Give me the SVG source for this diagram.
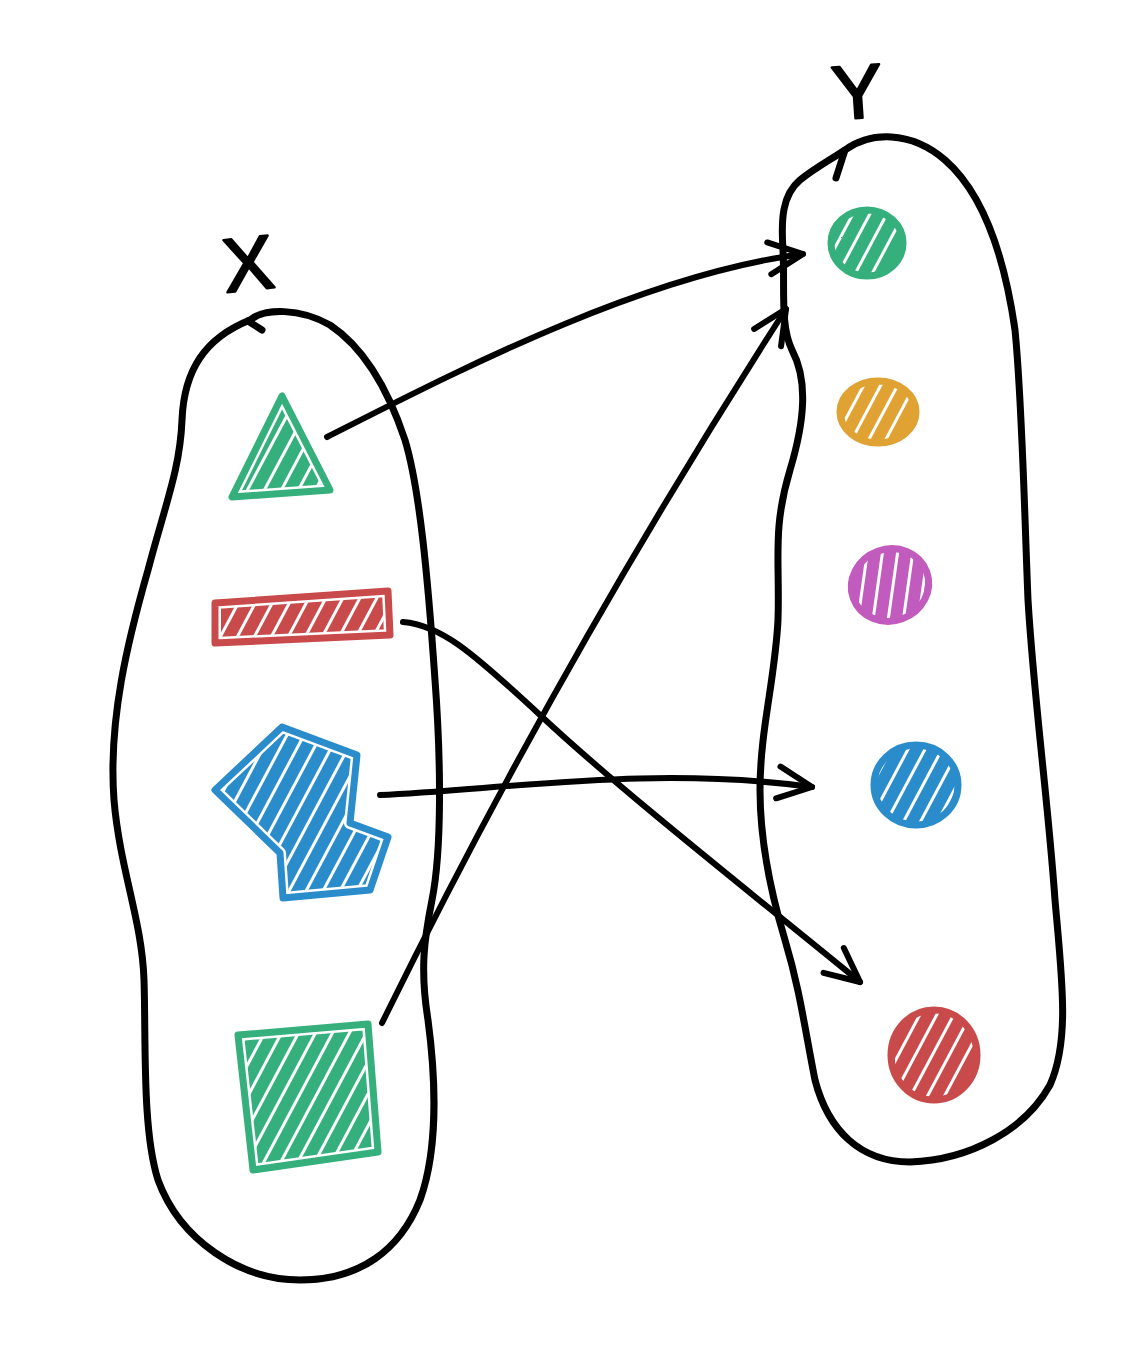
<svg xmlns="http://www.w3.org/2000/svg" width="1131" height="1350" viewBox="0 0 1131 1350">
<style>
.blob{fill:none;stroke:#000;stroke-width:7;stroke-linecap:round;stroke-linejoin:round}
.conn{fill:none;stroke:#000;stroke-width:6;stroke-linecap:round;stroke-linejoin:round}
.lbl{font-family:"Liberation Sans",Arial,sans-serif;font-size:76px;fill:#000;stroke:#000;stroke-width:2.5;stroke-linejoin:round;text-anchor:middle}
.pad{stroke:#fff;stroke-width:12;stroke-linejoin:round}
.ol{fill:none;stroke-width:7;stroke-linecap:round;stroke-linejoin:round}
.dot{stroke-width:7}
.green{stroke:#35b07d}.red{stroke:#c94a4a}.blue{stroke:#2b8ccb}.orange{stroke:#e0a232}.purple{stroke:#c15bbd}
.fg{fill:url(#h-green)}.fr{fill:url(#h-red)}.fb{fill:url(#h-blue)}.fo{fill:url(#h-orange)}.fp{fill:url(#h-purple)}
</style>
<defs>
<pattern id="h-green" width="15" height="15" patternUnits="userSpaceOnUse" patternTransform="rotate(28)"><rect width="15" height="15" fill="#fff"/><rect width="12" height="15" fill="#35b07d"/></pattern>
<pattern id="h-red" width="15" height="15" patternUnits="userSpaceOnUse" patternTransform="rotate(28)"><rect width="15" height="15" fill="#fff"/><rect width="12" height="15" fill="#c94a4a"/></pattern>
<pattern id="h-blue" width="15" height="15" patternUnits="userSpaceOnUse" patternTransform="rotate(28)"><rect width="15" height="15" fill="#fff"/><rect width="12" height="15" fill="#2b8ccb"/></pattern>
<pattern id="h-orange" width="15" height="15" patternUnits="userSpaceOnUse" patternTransform="rotate(28)"><rect width="15" height="15" fill="#fff"/><rect width="12" height="15" fill="#e0a232"/></pattern>
<pattern id="h-purple" width="15" height="15" patternUnits="userSpaceOnUse" patternTransform="rotate(28)"><rect width="15" height="15" fill="#fff"/><rect width="12" height="15" fill="#c15bbd"/></pattern>
<marker id="arrow" viewBox="0 0 44 44" refX="40" refY="22" markerWidth="44" markerHeight="44" markerUnits="userSpaceOnUse" orient="auto">
<path d="M6,6 L40,22 L6,38" fill="none" stroke="#000" stroke-width="6" stroke-linecap="round" stroke-linejoin="round"/>
</marker>
</defs>
<rect width="1131" height="1350" fill="#fff"/>

<g id="set-x">
<path class="blob" d="M250,320 C265,308 300,308 330,325 C360,345 385,380 405,440 C420,490 428,580 435,680 C441,760 442,850 432,900 C424,940 420,970 428,1020 C436,1080 438,1150 420,1200 C400,1250 360,1280 300,1280 C240,1280 180,1240 158,1180 C142,1130 146,1040 144,980 C142,920 120,870 114,800 C108,720 128,640 148,570 C165,505 180,470 182,420 C184,370 205,338 250,320"/>
<path class="blob" d="M248,321 L262,330"/>
<text class="lbl" x="248" y="290" transform="rotate(-6 248 262)">X</text>
</g>

<g id="set-y">
<path class="blob" d="M845,150 C870,132 910,130 945,160 C985,195 1005,260 1015,330 C1022,400 1024,500 1028,600 C1034,700 1048,800 1055,900 C1062,980 1070,1040 1050,1085 C1025,1130 970,1160 910,1162 C860,1162 828,1130 815,1080 C805,1030 800,990 785,940 C770,890 760,840 760,790 C760,730 775,680 778,620 C780,560 772,530 790,470 C805,420 808,380 792,350 C780,325 785,290 783,250 C781,220 782,195 800,180 C815,168 830,160 845,150"/>
<path class="blob" d="M845,150 L836,178"/>
<text class="lbl" x="857" y="118" transform="rotate(-4 857 90)">Y</text>
</g>

<g id="x-triangle">
<polygon points="282,396 232,497 330,490" class="pad fg"/>
<polygon points="282,396 232,497 330,490" class="ol green"/>
</g>

<g id="x-rectangle">
<polygon points="215,603 388,591 390,635 215,643" class="pad fr"/>
<polygon points="215,603 388,591 390,635 215,643" class="ol red"/>
</g>

<g id="x-pentagon">
<polygon points="215,790 282,727 357,755 350,823 388,837 370,890 283,898 280,853" class="pad fb"/>
<polygon points="215,790 282,727 357,755 350,823 388,837 370,890 283,898 280,853" class="ol blue"/>
</g>

<g id="x-square">
<polygon points="238,1035 368,1024 378,1152 253,1170" class="pad fg"/>
<polygon points="238,1035 368,1024 378,1152 253,1170" class="ol green"/>
</g>

<g id="y-green">
<ellipse cx="867" cy="243" rx="36" ry="33" class="dot fg green"/>
</g>
<g id="y-orange">
<ellipse cx="878" cy="412" rx="38" ry="31" class="dot fo orange"/>
</g>
<g id="y-purple">
<ellipse cx="890" cy="585" rx="39" ry="36" transform="rotate(-20 890 585)" class="dot fp purple"/>
</g>
<g id="y-blue">
<ellipse cx="916" cy="785" rx="42" ry="40" class="dot fb blue"/>
</g>
<g id="y-red">
<ellipse cx="934" cy="1055" rx="43" ry="45" class="dot fr red"/>
</g>

<g id="connectors">
<path class="conn" marker-end="url(#arrow)" d="M327,437 C450,375 640,275 803,254"/>
<path class="conn" marker-end="url(#arrow)" d="M382,1023 Q560,660 786,309"/>
<path class="conn" marker-end="url(#arrow)" d="M403,622 C440,625 470,650 540,715 C620,790 760,900 860,982"/>
<path class="conn" marker-end="url(#arrow)" d="M380,795 C500,790 650,765 812,787"/>
</g>
</svg>
